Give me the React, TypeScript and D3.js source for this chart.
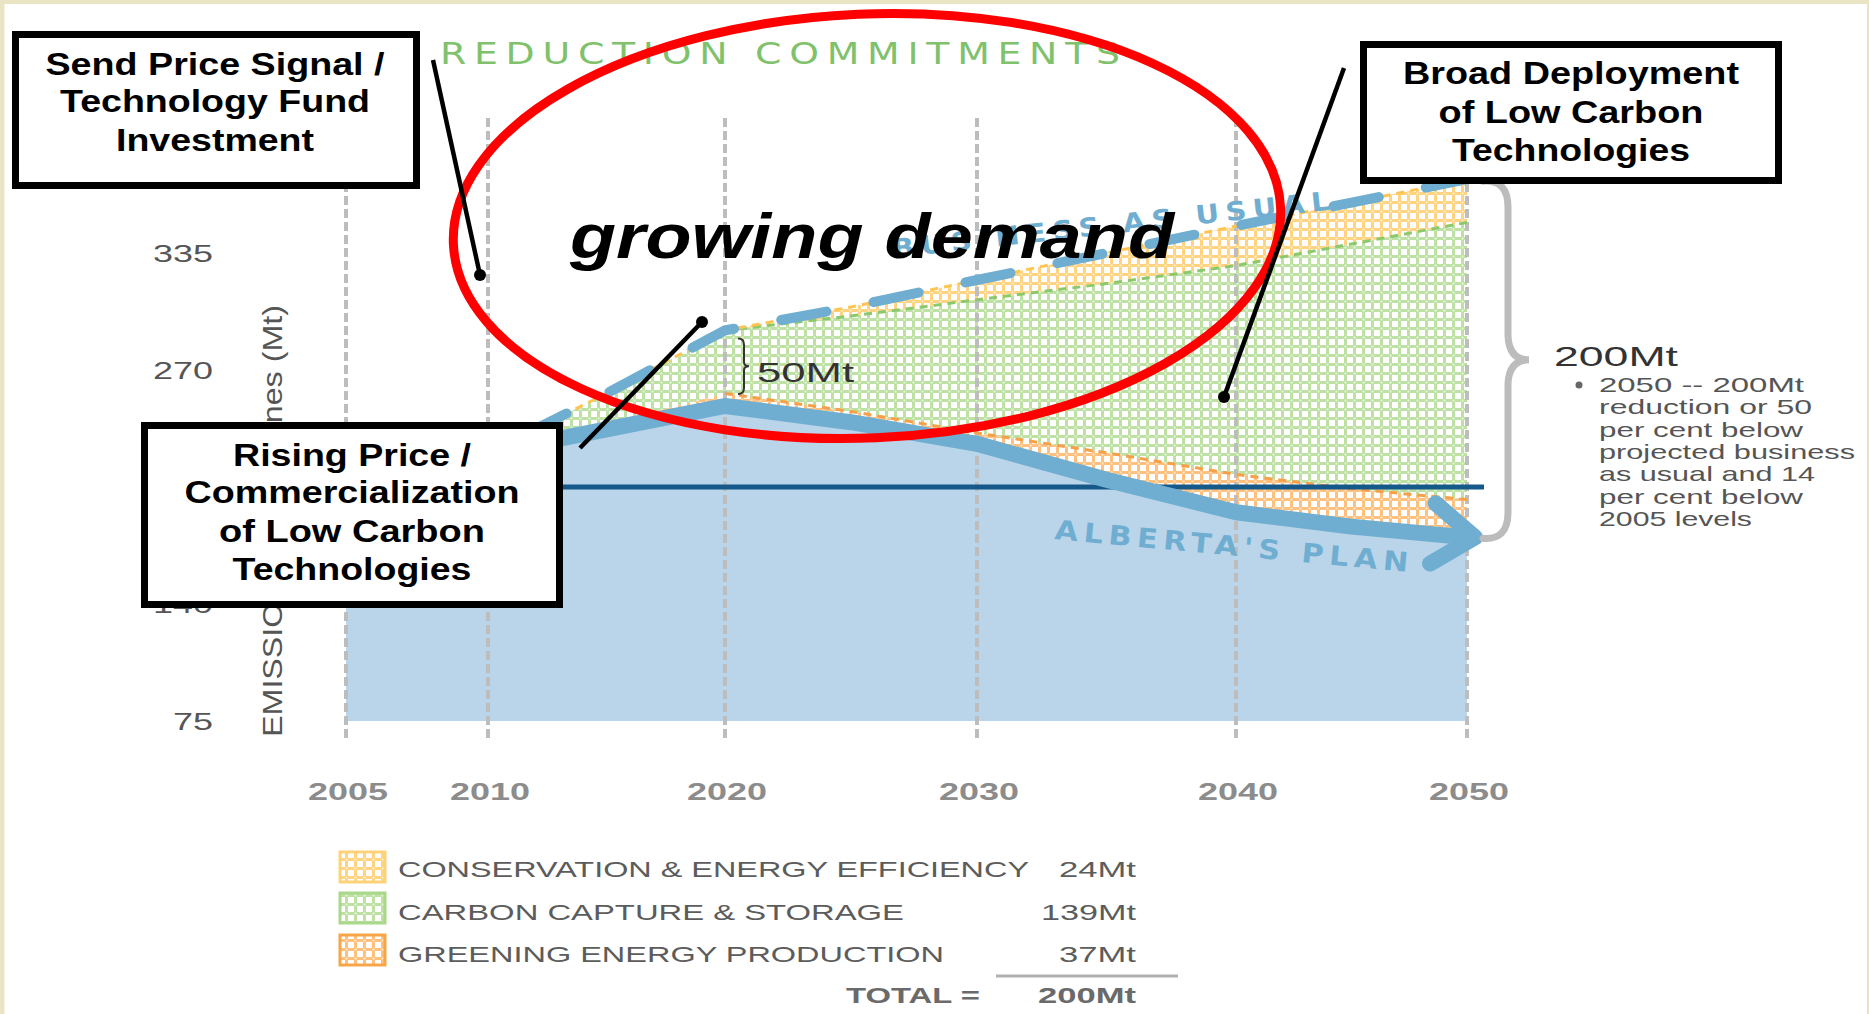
import * as React from "react";
import * as d3 from "d3";

// Alberta emissions path, Mt
const years = [2005, 2010, 2015, 2020, 2025, 2030, 2035, 2040, 2045, 2050];
const businessAsUsual = [205, 224, 257, 292, 305, 320, 335, 350, 363, 376];
const albertaPlan = [205, 224, 237, 250, 241, 229, 209, 191, 183, 177];
const conservation = [0, 0, 0, 0, 5, 11, 17, 22, 23, 24];
const greening = [0, 0, 3, 7, 6, 6, 15, 21, 21, 21];
const level2005 = 205;

const xTicks = [2005, 2010, 2020, 2030, 2040, 2050];
const yTicks = [75, 140, 205, 270, 335];

const legendLabels = ["CONSERVATION & ENERGY EFFICIENCY", "CARBON CAPTURE & STORAGE", "GREENING ENERGY PRODUCTION"];
const legendValues = ["24Mt", "139Mt", "37Mt"];
const totalValue = "200Mt";
const gapLabel = "50Mt";
const noteLines = ["2050 -- 200Mt", "reduction or 50", "per cent below", "projected business", "as usual and 14", "per cent below", "2005 levels"];

const sendLines = ["Send Price Signal /", "Technology Fund", "Investment"];
const risingLines = ["Rising Price /", "Commercialization", "of Low Carbon", "Technologies"];
const broadLines = ["Broad Deployment", "of Low Carbon", "Technologies"];

const FONT = "'Liberation Sans', Arial, Helvetica, sans-serif";
const WIDE = "'DejaVu Sans', Verdana, sans-serif";
const BLUE = "#6FAED1";

interface Row {
    year: number,
    bau: number,
    plan: number,
    greenTop: number,
    ccsTop: number
}

interface TxtProps {
    x?: number, y?: number, size: number, len?: number, weight?: string | number,
    fill?: string, anchor?: string, adjust?: string, italic?: boolean, transform?: string,
    family?: string, children: React.ReactNode
}

const Txt: React.FC<TxtProps> = ({x = 0, y = 0, size, len, weight = "normal", fill = "#000", anchor = "start",
                                     adjust = "spacingAndGlyphs", italic = false, transform, family = FONT, children}) => (
    <text x={x} y={y} fontSize={size} fontWeight={weight} fill={fill} textAnchor={anchor}
          textLength={len} lengthAdjust={len ? adjust : undefined} fontStyle={italic ? "italic" : "normal"}
          transform={transform} fontFamily={family}>{children}</text>
);

const Box: React.FC<{x0: number, y0: number, x1: number, y1: number}> = ({x0, y0, x1, y1}) => (
    <rect x={x0 + 3.5} y={y0 + 3.5} width={x1 - x0 - 7} height={y1 - y0 - 7} fill="#fff" stroke="#000" strokeWidth={7}/>
);

const Pattern: React.FC<{id: string, color: string}> = ({id, color}) => (
    <pattern id={id} width={9} height={9} patternUnits="userSpaceOnUse">
        <rect width={9} height={9} fill="#fff"/>
        <rect x={0} y={3} width={9} height={3} fill={color}/>
        <rect x={3} y={0} width={3} height={9} fill={color}/>
        <rect x={3.5} y={3.5} width={2} height={2} fill="#fff" opacity={0.6}/>
    </pattern>
);

const App: React.FC = () => {
    const width = 1869, height = 1014;
    const x = d3.scaleLinear().domain(xTicks).range([346, 488, 725, 977, 1236, 1467]);
    const y = d3.scaleLinear().domain([75, 335]).range([721, 253]);

    const rows: Row[] = years.map((year, i) => ({
        year,
        bau: businessAsUsual[i],
        plan: albertaPlan[i],
        greenTop: albertaPlan[i] + greening[i],
        ccsTop: businessAsUsual[i] - conservation[i]
    }));

    const band = (lo: (d: Row) => number, hi: (d: Row) => number) =>
        d3.area<Row>().x(d => x(d.year)).y0(d => y(lo(d))).y1(d => y(hi(d)))(rows) as string;
    const curve = (f: (d: Row) => number, from = 2005) =>
        d3.line<Row>().x(d => x(d.year)).y(d => y(f(d)))(rows.filter(d => d.year >= from)) as string;

    // callout boxes
    const sendBox = {x0: 12, y0: 31, x1: 420, y1: 189};
    const risingBox = {x0: 141, y0: 422, x1: 563, y1: 608};
    const broadBox = {x0: 1360, y0: 41, x1: 1782, y1: 184};
    // tick labels fully covered by the rising-price box are not drawn
    const yLabels = yTicks.filter(v => !(y(v) - 8 > risingBox.y0 && y(v) + 10 < risingBox.y1));

    // arrow head at the end of the plan line
    const last = rows[rows.length - 1], prev = rows[rows.length - 2];
    const ang = Math.atan2(y(last.plan) - y(prev.plan), x(last.year) - x(prev.year));
    const tipX = x(last.year) + 8, tipY = y(last.plan);
    const arm = (a: number) => [tipX + 52 * Math.cos(ang + Math.PI + a), tipY + 52 * Math.sin(ang + Math.PI + a)];
    const [ux, uy] = arm(0.62), [lx, ly] = arm(-0.62);

    // big brace on the right, BAU to plan in 2050
    const bTop = y(last.bau), bBot = y(last.plan) + 3, bMid = (bTop + bBot) / 2;
    const bx = x(2050) + 16;
    const bigBrace = `M${bx} ${bTop + 2} Q${bx + 25} ${bTop} ${bx + 25} ${bTop + 28} L${bx + 25} ${bMid - 24}
        Q${bx + 26} ${bMid} ${bx + 46} ${bMid} Q${bx + 26} ${bMid} ${bx + 25} ${bMid + 24}
        L${bx + 25} ${bBot - 28} Q${bx + 25} ${bBot} ${bx} ${bBot - 2}`;

    // small 50Mt brace at 2020
    const r20 = rows[3];
    const sTop = y(r20.bau) + 8, sBot = y(r20.plan) - 12, sMid = (sTop + sBot) / 2, sx = x(2020) + 13;
    const smallBrace = `M${sx} ${sTop} Q${sx + 6} ${sTop} ${sx + 6} ${sTop + 6} L${sx + 6} ${sMid - 4}
        Q${sx + 6} ${sMid} ${sx + 11} ${sMid} Q${sx + 6} ${sMid} ${sx + 6} ${sMid + 4}
        L${sx + 6} ${sBot - 6} Q${sx + 6} ${sBot} ${sx} ${sBot}`;

    const legendColors = ["#FFD27A", "#A9D88A", "#F8A548"];
    const legendFills = ["url(#p-cons)", "url(#p-ccs)", "url(#p-green)"];
    const legendY = [852, 893, 935];
    const legendBase = [877, 920, 962];
    const legendWidths = [631, 506, 546];
    const valueWidths = [77, 95, 77];
    const noteWidths = [205, 213, 204, 256, 216, 204, 153];

    return (
        <svg width={width} height={height} style={{position: "absolute", left: 0, top: 0}}>
            <defs>
                <Pattern id="p-cons" color="#FFD37F"/>
                <Pattern id="p-ccs" color="#BDE0A3"/>
                <Pattern id="p-green" color="#FFC07E"/>
            </defs>
            <rect width={width} height={height} fill="#E9E4C4"/>
            <rect x={4.5} y={4} width={width - 6.5} height={height - 4} fill="#fff"/>

            {/* axes text */}
            {yLabels.map(v => (
                <Txt key={v} x={213} y={y(v) + 9} size={24} len={String(v).length * 20} fill="#555" anchor="end">{v}</Txt>
            ))}
            <Txt size={28} len={432} fill="#555" transform="translate(282,737) rotate(-90)">EMISSIONS Megatonnes (Mt)</Txt>
            {xTicks.map(t => (
                <Txt key={t} x={x(t) + 2} y={800} size={24} len={80} weight="bold" fill="#8C8C8C" anchor="middle">{t}</Txt>
            ))}
            <Txt size={31} len={680 / 1.22} adjust="spacing" fill="#80C16C" family={WIDE}
                 transform="translate(440,64) scale(1.22,1)">REDUCTION COMMITMENTS</Txt>

            {/* areas */}
            <path d={band(() => 75, d => d.plan)} fill="#BAD5E9"/>
            <path d={band(d => d.plan, d => d.greenTop)} fill="url(#p-green)"/>
            <path d={band(d => d.greenTop, d => d.ccsTop)} fill="url(#p-ccs)"/>
            <path d={band(d => d.ccsTop, d => d.bau)} fill="url(#p-cons)"/>

            {xTicks.map(t => (
                <line key={t} x1={x(t)} x2={x(t)} y1={118} y2={740} stroke="#BDBDBD" strokeWidth={4} strokeDasharray="9 4"/>
            ))}

            <path d={curve(d => d.greenTop, 2020)} fill="none" stroke="#F5A04A" strokeWidth={3} strokeDasharray="8 6"/>
            <path d={curve(d => d.ccsTop, 2020)} fill="none" stroke="#8CC96C" strokeWidth={3} strokeDasharray="8 6"/>
            <path d={curve(d => d.bau, 2010)} fill="none" stroke="#FFC552" strokeWidth={3} strokeDasharray="8 6"/>

            <line x1={x(2005)} x2={x(2050) + 17} y1={y(level2005)} y2={y(level2005)} stroke="#15588A" strokeWidth={5}/>

            <path d={curve(d => d.plan)} fill="none" stroke={BLUE} strokeWidth={16} strokeLinejoin="round" strokeLinecap="round"/>
            <path d={`M${ux} ${uy} L${tipX} ${tipY} L${lx} ${ly}`} fill="none" stroke={BLUE} strokeWidth={16}
                  strokeLinejoin="round" strokeLinecap="round"/>
            <path d={curve(d => d.bau)} fill="none" stroke={BLUE} strokeWidth={10} strokeLinecap="round" strokeDasharray="46 48"/>

            <Txt size={26} len={440 / 1.12} adjust="spacing" weight="bold" fill={BLUE} family={WIDE}
                 transform="translate(893,258) rotate(-6.3) scale(1.12,1)">BUSINESS AS USUAL</Txt>
            <Txt size={27} len={355 / 1.12} adjust="spacing" weight="bold" fill={BLUE} family={WIDE}
                 transform="translate(1054,539) rotate(5.3) scale(1.12,1)">ALBERTA'S PLAN</Txt>

            <path d={smallBrace} fill="none" stroke="#333" strokeWidth={2}/>
            <Txt x={757} y={382} size={28} len={97} fill="#333">{gapLabel}</Txt>

            <path d={bigBrace} fill="none" stroke="#BCBCBC" strokeWidth={7} strokeLinecap="round"/>
            <Txt x={1554} y={bMid + 6} size={28} len={124} fill="#333">{totalValue}</Txt>
            <circle cx={1579} cy={385} r={3.5} fill="#666"/>
            {noteLines.map((s, i) => (
                <Txt key={i} x={1599} y={392 + i * 22.3} size={21} len={noteWidths[i]} fill="#555">{s}</Txt>
            ))}

            {/* legend */}
            {legendLabels.map((s, i) => (
                <g key={s}>
                    <rect x={340} y={legendY[i]} width={45} height={30} fill={legendFills[i]} stroke={legendColors[i]} strokeWidth={3}/>
                    <Txt x={398} y={legendBase[i]} size={22} len={legendWidths[i]} fill="#5C5C5C">{s}</Txt>
                    <Txt x={1136} y={legendBase[i]} size={22} len={valueWidths[i]} fill="#5C5C5C" anchor="end">{legendValues[i]}</Txt>
                </g>
            ))}
            <line x1={996} x2={1178} y1={976} y2={976} stroke="#B0B0B0" strokeWidth={3}/>
            <Txt x={980} y={1003} size={22} len={134} weight="bold" fill="#6A6A6A" anchor="end">TOTAL =</Txt>
            <Txt x={1136} y={1003} size={22} len={98} weight="bold" fill="#6A6A6A" anchor="end">{totalValue}</Txt>

            {/* annotation overlay */}
            <Txt x={570} y={258} size={63} len={604} weight="bold" italic={true}>growing demand</Txt>
            <ellipse cx={867} cy={226} rx={414} ry={212} transform="rotate(-2.5 867 226)" fill="none" stroke="#FF0000" strokeWidth={9}/>

            <Box {...sendBox}/>
            {sendLines.map((s, i) => (
                <Txt key={s} x={215} y={[75, 112, 151][i]} size={31} len={[339, 310, 198][i]} weight="bold" anchor="middle">{s}</Txt>
            ))}
            <Box {...risingBox}/>
            {risingLines.map((s, i) => (
                <Txt key={s} x={352} y={[466, 503, 542, 580][i]} size={31} len={[238, 335, 266, 239][i]} weight="bold" anchor="middle">{s}</Txt>
            ))}
            <Box {...broadBox}/>
            {broadLines.map((s, i) => (
                <Txt key={s} x={1571} y={[84, 123, 161][i]} size={31} len={[336, 265, 238][i]} weight="bold" anchor="middle">{s}</Txt>
            ))}

            <g stroke="#000" strokeWidth={4.5} fill="#000">
                <line x1={433} y1={60} x2={480} y2={275}/>
                <line x1={580} y1={448} x2={702} y2={322}/>
                <line x1={1344} y1={68} x2={1224} y2={397}/>
                <circle cx={480} cy={275} r={6} stroke="none"/>
                <circle cx={702} cy={322} r={6} stroke="none"/>
                <circle cx={1224} cy={397} r={6} stroke="none"/>
            </g>
        </svg>
    );
};

export default App;
